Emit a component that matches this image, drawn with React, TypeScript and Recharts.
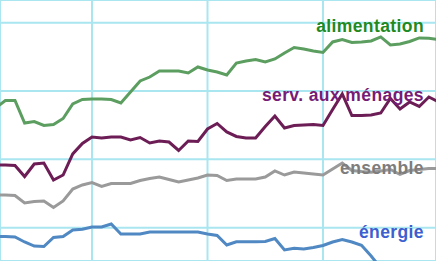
import React from "react";
import { LineChart, Line, XAxis, YAxis, CartesianGrid } from "recharts";

// month index (0 = first visible month); grid lines mark each January
const months = [-1, 0, 1, 2, 3, 4, 5, 6, 7, 8, 9, 10, 11, 12, 13, 14, 15, 16, 17, 18, 19, 20, 21, 22, 23, 24, 25, 26, 27, 28, 29, 30, 31, 32, 33, 34, 35, 36, 37, 38, 39, 40, 41, 42, 43, 44, 45];

const alimentation = [17.52, 18.62, 18.62, 15.32, 15.54, 14.96, 15.1, 15.98, 18.1, 18.76, 18.84, 18.84, 18.76, 18.25, 19.86, 21.47, 22.05, 22.93, 22.93, 22.93, 22.64, 23.52, 23.08, 22.79, 22.35, 24.1, 24.4, 24.62, 24.25, 24.69, 25.57, 26.37, 26.15, 25.86, 25.64, 27.18, 27.54, 27.1, 27.18, 27.32, 27.91, 26.74, 26.88, 27.25, 27.77, 27.73, 27.54];
const services = [9.18, 9.18, 9.1, 7.49, 9.32, 9.47, 6.98, 7.71, 10.79, 12.32, 13.27, 13.13, 13.27, 13.27, 12.83, 13.2, 12.4, 12.69, 12.54, 11.3, 12.69, 12.62, 14.44, 15.25, 14.01, 13.35, 13.13, 13.13, 14.81, 16.35, 14.59, 14.96, 15.03, 15.1, 14.96, 17.3, 19.57, 16.42, 16.42, 16.49, 16.79, 18.91, 17.37, 18.4, 17.74, 19.13, 18.4];
const ensemble = [4.79, 4.79, 4.71, 3.61, 3.83, 3.91, 2.96, 3.91, 5.66, 6.25, 6.61, 6.03, 6.47, 6.47, 6.47, 6.91, 7.2, 7.42, 7.05, 6.69, 6.98, 7.27, 7.71, 7.64, 6.91, 7.13, 7.13, 7.13, 7.42, 8.3, 7.71, 8.15, 8.01, 7.86, 7.71, 8.59, 9.47, 8.37, 8.22, 8.11, 8.3, 8.52, 7.79, 8.37, 8.52, 8.66, 8.66];
const energie: (number | null)[] = [-1.29, -1.29, -1.36, -2.09, -2.68, -2.75, -1.43, -1.29, -0.34, -0.23, 0.1, 0.1, 0.54, -0.92, -0.92, -0.92, -0.63, -0.63, -0.63, -0.63, -0.63, -0.63, -0.92, -1.14, -2.53, -2.05, -2.05, -2.05, -2.02, -1.58, -3.26, -3.01, -3.12, -2.9, -2.6, -2.09, -1.73, -2.09, -2.58, -4.14, -5.9, null, null, null, null, null, null];

const januaryTicks = [9, 21, 33];
const valueTicks = [0, 10, 20, 30];

const labels = [
  { text: "alimentation", color: "#1f8a1f", value: 30 - 1.43 },
  { text: "serv. aux ménages", color: "#761c76", value: 20 - 1.46 },
  { text: "ensemble", color: "#7d7d7d", value: 10 - 2.1 },
  { text: "énergie", color: "#3d5fcf", value: 0 - 1.58 },
];

const data = months.map((m, k) => ({
  m,
  alimentation: alimentation[k],
  services: services[k],
  ensemble: ensemble[k],
  energie: energie[k],
}));

const W = 436;
const H = 261;
const xDomain: [number, number] = [-0.558, 44.74];
const yDomain: [number, number] = [-4.873, 33.32];

export default function App() {
  const yPx = (v: number) => ((yDomain[1] - v) / (yDomain[1] - yDomain[0])) * H;
  return (
    <div style={{ position: "absolute", left: 0, top: 0, width: W, height: H, background: "#fff", overflow: "hidden" }}>
      <LineChart width={W} height={H} data={data} margin={{ top: 0, right: 0, bottom: 0, left: 0 }}>
        <CartesianGrid stroke="#a9e6f0" strokeWidth={2} horizontal vertical />
        <XAxis dataKey="m" type="number" domain={xDomain} ticks={januaryTicks} allowDataOverflow hide />
        <YAxis type="number" domain={yDomain} ticks={valueTicks} allowDataOverflow hide />
        <Line dataKey="alimentation" stroke="#5c9e60" strokeWidth={3} dot={false} isAnimationActive={false} />
        <Line dataKey="services" stroke="#6d1d55" strokeWidth={3} dot={false} isAnimationActive={false} />
        <Line dataKey="ensemble" stroke="#9a9a9a" strokeWidth={3} dot={false} isAnimationActive={false} />
        <Line dataKey="energie" stroke="#4f88c2" strokeWidth={3} dot={false} isAnimationActive={false} />
      </LineChart>
      <svg width={W} height={H} style={{ position: "absolute", left: 0, top: 0, pointerEvents: "none" }}>
        {labels.map((l) => (
          <text
            key={l.text}
            x={424}
            y={yPx(l.value)}
            textAnchor="end"
            fill={l.color}
            style={{ fontFamily: "'Liberation Sans', Arial, sans-serif", fontWeight: 700, fontSize: 17.5, letterSpacing: 0.4 }}
          >
            {l.text}
          </text>
        ))}
      </svg>
    </div>
  );
}
